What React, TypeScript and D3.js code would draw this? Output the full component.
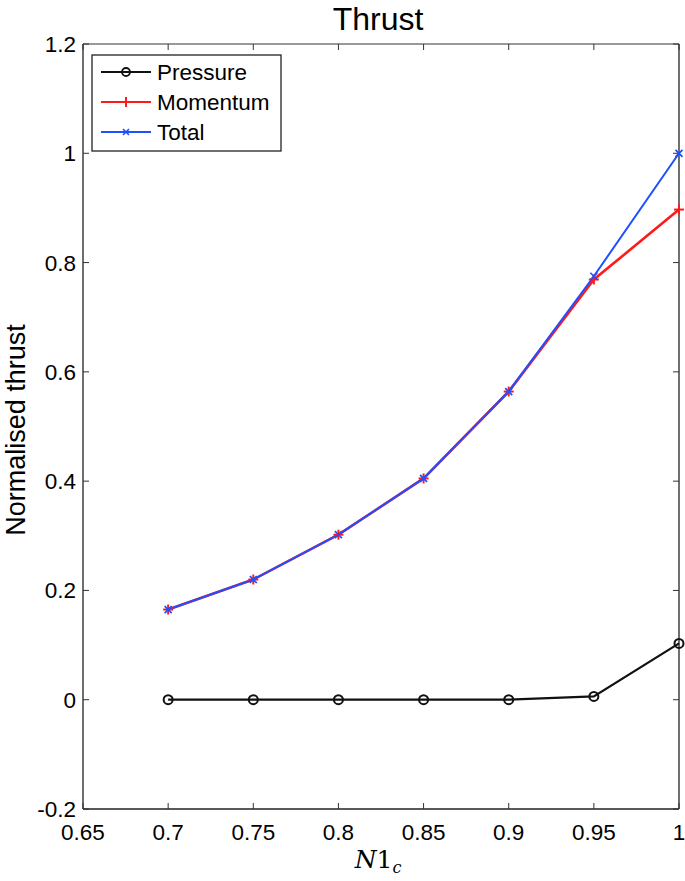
import React from "react";
import * as d3 from "d3";

const xValues = [0.7, 0.75, 0.8, 0.85, 0.9, 0.95, 1.0];
const pressure = [0, 0, 0, 0, 0, 0.006, 0.103];
const momentum = [0.165, 0.22, 0.302, 0.405, 0.564, 0.769, 0.897];
const total = [0.165, 0.22, 0.302, 0.405, 0.564, 0.775, 1.0];
const xTicks = [0.65, 0.7, 0.75, 0.8, 0.85, 0.9, 0.95, 1];
const yTicks = [-0.2, 0, 0.2, 0.4, 0.6, 0.8, 1, 1.2];
const seriesNames = ["Pressure", "Momentum", "Total"];

const W = 685, H = 881;
const L = 83, R = 679, T = 44, B = 809;

export default function App() {
  const x = d3.scaleLinear().domain([0.65, 1]).range([L, R]);
  const y = d3.scaleLinear().domain([-0.2, 1.2]).range([B, T]);
  const line = (vals: number[]) =>
    d3.line<number>().x((_, i) => x(xValues[i])).y((v) => y(v))(vals) || "";
  const font = "Liberation Sans, Arial, sans-serif";
  const tickLen = 6;
  const red = "#ff1a1a", blue = "#1f4fff";

  return (
    <svg width={W} height={H} style={{ display: "block", position: "absolute", left: 0, top: 0 }}>
      <rect x={0} y={0} width={W} height={H} fill="#fff" />
      {/* axes frame */}
      <line x1={L} y1={T} x2={R} y2={T} stroke="#999" strokeWidth={2} />
      <line x1={L} y1={B} x2={R} y2={B} stroke="#222" strokeWidth={1.5} />
      <line x1={L} y1={T} x2={L} y2={B} stroke="#222" strokeWidth={1.3} />
      <line x1={R} y1={T} x2={R} y2={B} stroke="#222" strokeWidth={1.3} />
      {xTicks.map((t) => (
        <g key={"x" + t}>
          <line x1={x(t)} x2={x(t)} y1={B} y2={B - tickLen} stroke="#333" />
          <line x1={x(t)} x2={x(t)} y1={T} y2={T + tickLen} stroke="#333" />
          <text x={x(t)} y={840} textAnchor="middle" fontFamily={font} fontSize={22.5} fill="#000">
            {String(t)}
          </text>
        </g>
      ))}
      {yTicks.map((t) => (
        <g key={"y" + t}>
          <line x1={L} x2={L + tickLen} y1={y(t)} y2={y(t)} stroke="#333" />
          <line x1={R} x2={R - tickLen} y1={y(t)} y2={y(t)} stroke="#333" />
          <text x={L - 7} y={y(t) + 8} textAnchor="end" fontFamily={font} fontSize={22.5} fill="#000">
            {String(Math.round(t * 10) / 10)}
          </text>
        </g>
      ))}
      {/* series */}
      <path d={line(pressure)} fill="none" stroke="#111" strokeWidth={2.2} />
      <path d={line(momentum)} fill="none" stroke={red} strokeWidth={2.6} />
      <path d={line(total)} fill="none" stroke={blue} strokeWidth={2} />
      {pressure.map((v, i) => (
        <circle key={"p" + i} cx={x(xValues[i])} cy={y(v)} r={4.5} fill="none" stroke="#111" strokeWidth={2} />
      ))}
      {momentum.map((v, i) => {
        const cx = x(xValues[i]), cy = y(v);
        return (
          <g key={"m" + i} stroke={red} strokeWidth={2}>
            <line x1={cx - 5} x2={cx + 5} y1={cy} y2={cy} />
            <line x1={cx} x2={cx} y1={cy - 5} y2={cy + 5} />
          </g>
        );
      })}
      {total.map((v, i) => {
        const cx = x(xValues[i]), cy = y(v);
        return (
          <g key={"t" + i} stroke={blue} strokeWidth={1.7}>
            <line x1={cx - 3.5} x2={cx + 3.5} y1={cy - 3.5} y2={cy + 3.5} />
            <line x1={cx - 3.5} x2={cx + 3.5} y1={cy + 3.5} y2={cy - 3.5} />
          </g>
        );
      })}
      {/* legend */}
      <rect x={92} y={55} width={189} height={96} fill="#fff" stroke="#222" strokeWidth={1.3} />
      {seriesNames.map((name, i) => {
        const ly = 72 + i * 30;
        const color = i === 0 ? "#111" : i === 1 ? red : blue;
        return (
          <g key={name}>
            <line x1={101} x2={151} y1={ly} y2={ly} stroke={color} strokeWidth={2.2} />
            {i === 0 && <circle cx={126} cy={ly} r={4} fill="none" stroke="#111" strokeWidth={1.8} />}
            {i === 1 && (
              <g stroke={red} strokeWidth={2}>
                <line x1={121} x2={131} y1={ly} y2={ly} />
                <line x1={126} x2={126} y1={ly - 5} y2={ly + 5} />
              </g>
            )}
            {i === 2 && (
              <g stroke={blue} strokeWidth={1.6}>
                <line x1={123} x2={129} y1={ly - 3} y2={ly + 3} />
                <line x1={123} x2={129} y1={ly + 3} y2={ly - 3} />
              </g>
            )}
            <text x={157} y={ly + 8} fontFamily={font} fontSize={22.5} fill="#000">
              {name}
            </text>
          </g>
        );
      })}
      {/* title and labels */}
      <text x={378} y={30} textAnchor="middle" fontFamily={font} fontSize={32} fill="#000">
        Thrust
      </text>
      <text
        transform={`translate(${25},${430}) rotate(-90)`}
        textAnchor="middle"
        fontFamily={font}
        fontSize={27}
        fill="#000"
      >
        Normalised thrust
      </text>
      <text x={378} y={868} textAnchor="middle" fontFamily="DejaVu Serif, Liberation Serif, serif" fontSize={25} fill="#000">
        <tspan fontStyle="italic">N</tspan>
        <tspan>1</tspan>
        <tspan fontStyle="italic" fontSize={16} dy={5}>c</tspan>
      </text>
    </svg>
  );
}
